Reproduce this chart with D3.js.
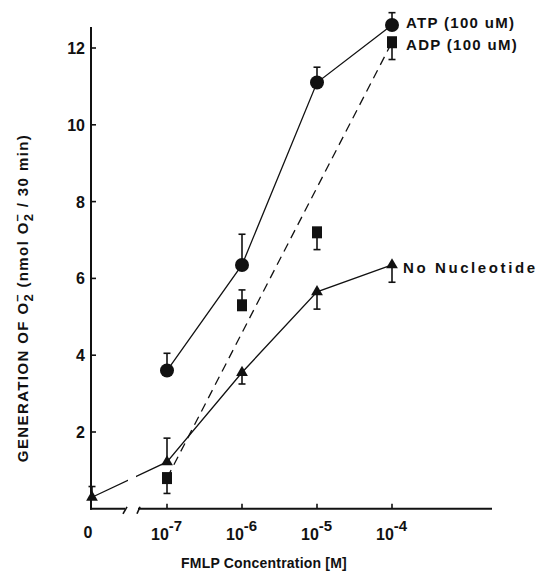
<!DOCTYPE html>
<meta charset="utf-8">
<style>
body { margin: 0; background: #fff; }
text { font-family: "Liberation Sans", Arial, sans-serif; font-weight: bold; fill: #111; }
.line { fill: none; stroke: #111; stroke-width: 1.3px; }
.axis { stroke: #111; stroke-width: 2px; fill: none; }
.err { stroke: #111; stroke-width: 1.6px; }
</style>
<body>
<script src="https://d3js.org/d3.v7.min.js"></script>
<script>
// data
var conc = [0, 1e-7, 1e-6, 1e-5, 1e-4];
var xExp = ["-7", "-6", "-5", "-4"];
var yTicks = [2, 4, 6, 8, 10, 12];
var atp = [null, 3.6, 6.35, 11.1, 12.6];
var atpErr = [null, 0.45, 0.8, 0.4, 0.32];       // + = bar up, - = bar down
var adp = [null, 0.8, 5.3, 7.2, 12.15];
var adpErr = [null, -0.4, 0.4, -0.45, -0.45];
var none = [0.3, 1.22, 3.55, 5.65, 6.35];
var noneErr = [0.28, 0.62, -0.3, -0.45, -0.45];

var width = 545, height = 574;
var svg = d3.select("body").append("svg")
    .attr("width", width)
    .attr("height", height);

// scales
var y = d3.scaleLinear().domain([0, 12]).range([508.8, 48]);
var xLog = d3.scaleLog().domain([1e-7, 1e-4]).range([167, 392]);
var x0 = 92;
function x(c) { return c === 0 ? x0 : xLog(c); }

// axes
svg.append("line").attr("class", "axis")
    .attr("x1", 91).attr("x2", 91).attr("y1", 27).attr("y2", y(0) + 1);
svg.append("line").attr("class", "axis")
    .attr("x1", 90).attr("x2", 125).attr("y1", y(0)).attr("y2", y(0));
svg.append("line").attr("class", "axis")
    .attr("x1", 138).attr("x2", 492).attr("y1", y(0)).attr("y2", y(0));
// break marks
svg.append("line").attr("class", "axis").style("stroke-width", 1.6)
    .attr("x1", 123).attr("y1", y(0) + 5).attr("x2", 127).attr("y2", y(0) - 2);
svg.append("line").attr("class", "axis").style("stroke-width", 1.6)
    .attr("x1", 137).attr("y1", y(0) + 5).attr("x2", 140).attr("y2", y(0) - 2);

svg.selectAll(".ytick").data(yTicks).enter().append("line")
    .attr("class", "axis").style("stroke-width", 1.6)
    .attr("x1", 91).attr("x2", 96)
    .attr("y1", function(d) { return y(d); })
    .attr("y2", function(d) { return y(d); });
svg.selectAll(".ylab").data(yTicks).enter().append("text")
    .attr("x", 85)
    .attr("y", function(d) { return y(d) + 6; })
    .attr("text-anchor", "end")
    .style("font-size", "16px")
    .text(function(d) { return d; });

svg.selectAll(".xtick").data(conc.slice(1)).enter().append("line")
    .attr("class", "axis").style("stroke-width", 1.6)
    .attr("x1", function(d) { return x(d); })
    .attr("x2", function(d) { return x(d); })
    .attr("y1", y(0)).attr("y2", y(0) - 5);

svg.append("text").attr("x", 88).attr("y", 538)
    .attr("text-anchor", "middle").style("font-size", "16px").text("0");
var xl = svg.selectAll(".xlab").data(conc.slice(1)).enter().append("text")
    .attr("x", function(d) { return x(d) - 16; })
    .attr("y", 540)
    .style("font-size", "16px");
xl.append("tspan").text("10");
xl.append("tspan").attr("dy", -9).style("font-size", "15px")
    .text(function(d, i) { return xExp[i]; });

// axis titles
svg.append("text")
    .attr("x", 264).attr("y", 568)
    .attr("text-anchor", "middle")
    .style("font-size", "14px")
    .style("letter-spacing", "0.2px")
    .text("FMLP Concentration [M]");

var yt = svg.append("text")
    .attr("transform", "translate(28,298) rotate(-90)")
    .attr("text-anchor", "middle")
    .style("font-size", "15px")
    .style("letter-spacing", "1.4px");
yt.append("tspan").text("GENERATION OF O");
yt.append("tspan").attr("dy", 5).style("font-size", "13px").text("2");
yt.append("tspan").attr("dx", -9).attr("dy", -12).style("font-size", "13px").text("\u2013");
yt.append("tspan").attr("dy", 7).text(" (nmol O");
yt.append("tspan").attr("dy", 5).style("font-size", "13px").text("2");
yt.append("tspan").attr("dx", -9).attr("dy", -12).style("font-size", "13px").text("\u2013");
yt.append("tspan").attr("dy", 7).text(" / 30 min)");

// build point lists
function pts(vals, errs) {
  var out = [];
  vals.forEach(function(v, i) {
    if (v !== null) out.push({c: conc[i], v: v, e: errs[i]});
  });
  return out;
}
var atpPts = pts(atp, atpErr), adpPts = pts(adp, adpErr), nonePts = pts(none, noneErr);

var line = d3.line()
    .x(function(d) { return x(d.c); })
    .y(function(d) { return y(d.v); });

// clip to make the gap in the no-nucleotide line at the axis break
var defs = svg.append("defs");
var cp = defs.append("clipPath").attr("id", "gap");
cp.append("rect").attr("x", 0).attr("y", 0).attr("width", 128).attr("height", height);
cp.append("rect").attr("x", 136).attr("y", 0).attr("width", width).attr("height", height);

svg.append("path").datum(atpPts).attr("class", "line").attr("d", line);
svg.append("path").datum(nonePts).attr("class", "line")
    .attr("clip-path", "url(#gap)").attr("d", line);
svg.append("path").datum([adpPts[0], adpPts[adpPts.length - 1]])
    .attr("class", "line").style("stroke-dasharray", "9,6").attr("d", line);

// error bars
function errBars(data) {
  var g = svg.append("g");
  g.selectAll("line.v").data(data).enter().append("line").attr("class", "err")
      .attr("x1", function(d) { return x(d.c); })
      .attr("x2", function(d) { return x(d.c); })
      .attr("y1", function(d) { return y(d.v); })
      .attr("y2", function(d) { return y(d.v + d.e); });
  g.selectAll("line.h").data(data).enter().append("line").attr("class", "err")
      .attr("x1", function(d) { return x(d.c) - 3.5; })
      .attr("x2", function(d) { return x(d.c) + 3.5; })
      .attr("y1", function(d) { return y(d.v + d.e); })
      .attr("y2", function(d) { return y(d.v + d.e); });
}
errBars(atpPts);
errBars(adpPts);
errBars(nonePts);

// markers
svg.selectAll(".atp").data(atpPts).enter().append("circle")
    .attr("cx", function(d) { return x(d.c); })
    .attr("cy", function(d) { return y(d.v); })
    .attr("r", 7).attr("fill", "#111");
svg.selectAll(".adp").data(adpPts).enter().append("rect")
    .attr("x", function(d) { return x(d.c) - 5; })
    .attr("y", function(d) { return y(d.v) - 6; })
    .attr("width", 10).attr("height", 12).attr("fill", "#111");
var tri = d3.symbol().type(d3.symbolTriangle).size(60);
svg.selectAll(".none").data(nonePts).enter().append("path")
    .attr("d", tri)
    .attr("transform", function(d) { return "translate(" + x(d.c) + "," + y(d.v) + ")"; })
    .attr("fill", "#111");

// series labels
var labs = [["ATP (100 uM)", 406, 28, 1.3], ["ADP (100 uM)", 406, 50, 1.3], ["No Nucleotide", 403, 273, 2.6]];
svg.selectAll(".slab").data(labs).enter().append("text")
    .attr("x", function(d) { return d[1]; })
    .attr("y", function(d) { return d[2]; })
    .style("font-size", "15px")
    .style("letter-spacing", function(d) { return d[3] + "px"; })
    .text(function(d) { return d[0]; });
</script>
</body>
